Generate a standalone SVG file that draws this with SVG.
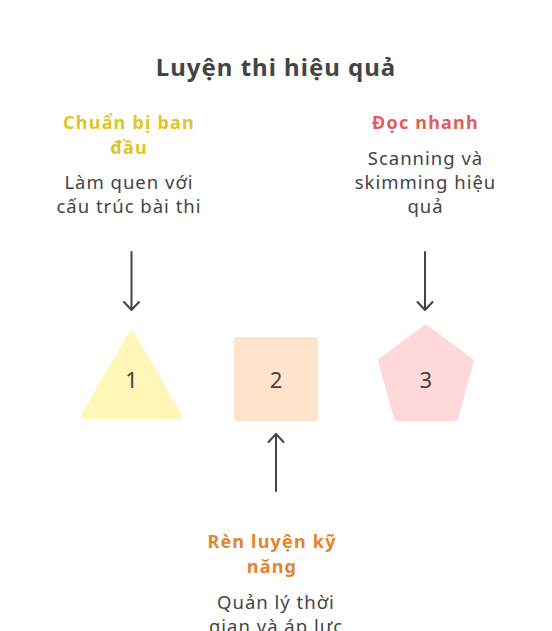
<svg xmlns="http://www.w3.org/2000/svg" width="552" height="631" viewBox="0 0 552 631">
<style>
text{font-family:"Noto Sans","DejaVu Sans",sans-serif;text-anchor:middle;fill:#444444}
.title{font-size:24px;font-weight:bold;letter-spacing:1px}
.head{font-size:18px;font-weight:bold;letter-spacing:1.2px}
.desc{font-size:18.5px;letter-spacing:1px}
.num{font-size:22px}
.conn{stroke:#444444;stroke-width:2;fill:none;stroke-linecap:round;stroke-linejoin:round}
</style>
<rect width="552" height="631" fill="#ffffff"/>
<text class="title" x="276" y="76">Luyện thi hiệu quả</text>
<g id="connectors">
<path class="conn" d="M131.5 252 V310 M124 302 L131.5 310 L139 302"/>
<path class="conn" d="M425 252 V310 M417.5 302 L425 310 L432.5 302"/>
<path class="conn" d="M276 491 V434 M268.5 442 L276 434 L283.5 442"/>
</g>
<g id="node1">
<path d="M128 334 Q131.5 327 135 334 L181 413 Q184 419 177 419 L86 419 Q79 419 82 413 Z" fill="#FFF6B8"/>
<text class="num" x="131.5" y="388">1</text>
</g>
<g id="node2">
<rect x="234" y="337" width="84" height="84" rx="3" fill="#FFE3CB"/>
<text class="num" x="276" y="388">2</text>
</g>
<g id="node3">
<path d="M423 326 Q425.7 324 428.4 326 L472 358 Q474.5 360 473.5 363 L458 419 Q457 421 455 421 L397 421 Q395 421 394 419 L378.5 363 Q377.5 360 380 358 Z" fill="#FFD9D9"/>
<text class="num" x="425.7" y="388">3</text>
</g>
<g id="label1">
<text class="head" x="129" y="129" style="fill:#E0C526">Chuẩn bị ban</text>
<text class="head" x="129" y="154" style="fill:#E0C526">đầu</text>
<text class="desc" x="129" y="189">Làm quen với</text>
<text class="desc" x="129" y="213">cấu trúc bài thi</text>
</g>
<g id="label3">
<text class="head" x="425.5" y="129" style="fill:#E55B5B">Đọc nhanh</text>
<text class="desc" x="425.5" y="165">Scanning và</text>
<text class="desc" x="425.5" y="189">skimming hiệu</text>
<text class="desc" x="425.5" y="213">quả</text>
</g>
<g id="label2">
<text class="head" x="272" y="548" style="fill:#E08530">Rèn luyện kỹ</text>
<text class="head" x="272" y="573" style="fill:#E08530">năng</text>
<text class="desc" x="276" y="609">Quản lý thời</text>
<text class="desc" x="276" y="633">gian và áp lực</text>
</g>
</svg>
